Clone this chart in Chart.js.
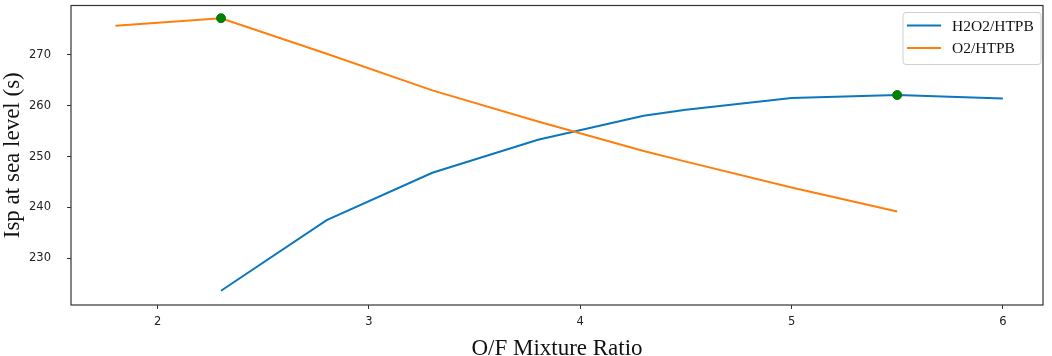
<!DOCTYPE html>
<html>
<head>
<meta charset="utf-8">
<script src="https://cdn.jsdelivr.net/npm/chart.js@4"></script>
<style>
    body { margin: 0; background: #fff; }
    #wrap { width: 1052px; height: 356px; position: relative; }
</style>
</head>
<body>
<div id="wrap"><canvas id="graph_isp"></canvas></div>
<script>
// ############################## ISP vs O/F ############################### //
const h2o2_of = [2.3, 2.8, 3.3, 3.8, 4.3, 4.5, 5.0, 5.5, 6.0];
const h2o2_isp = [223.6, 237.5, 246.8, 253.3, 258.0, 259.2, 261.5, 262.1, 261.4];
const o2_of = [1.8, 2.3, 2.8, 3.3, 3.8, 4.3, 4.5, 5.0, 5.5];
const o2_isp = [275.7, 277.2, 270.2, 263.0, 256.9, 251.1, 249.0, 243.9, 239.2];
const max_of = [2.3, 5.5];
const max_isp = [277.2, 262.1];
const xTicks = [2, 3, 4, 5, 6];
const yTicks = [230, 240, 250, 260, 270];

(function(){
    const toXY = (xs, ys) => xs.map((x, i) => ({x: x, y: ys[i]}));

    const serif = "'Liberation Serif', 'Times New Roman', serif";
    const sans = "'DejaVu Sans', sans-serif";

    // marco completo + leyenda dentro del area
    const framePlugin = {
        id: 'frame',
        afterDraw(chart) {
            const {ctx, chartArea: a} = chart;
            ctx.save();
            ctx.strokeStyle = '#333';
            ctx.lineWidth = 1.2;
            ctx.strokeRect(a.left, a.top, a.right - a.left, a.bottom - a.top);

            // leyenda
            const items = chart.data.datasets.filter(d => d.legend);
            const bx = a.right - 140, by = a.top + 7, bw = 138, bh = 52;
            ctx.fillStyle = 'rgba(255,255,255,0.8)';
            ctx.strokeStyle = '#d0d0d0';
            ctx.lineWidth = 1;
            ctx.beginPath();
            ctx.roundRect(bx, by, bw, bh, 3);
            ctx.fill();
            ctx.stroke();
            ctx.font = "15.5px " + serif;
            ctx.textBaseline = 'middle';
            items.forEach((d, i) => {
                const y = by + 13 + i * 22.5;
                ctx.strokeStyle = d.borderColor;
                ctx.lineWidth = 2;
                ctx.beginPath();
                ctx.moveTo(bx + 4, y);
                ctx.lineTo(bx + 38, y);
                ctx.stroke();
                ctx.fillStyle = '#111';
                ctx.fillText(d.label, bx + 49, y + 1);
            });
            ctx.restore();
        }
    };

    const data_graph = {
        datasets: [{
            type: 'scatter',
            label: 'max',
            data: toXY(max_of, max_isp),
            backgroundColor: '#008000',
            borderColor: '#008000',
            pointRadius: 4.5,
            order: 0
        },{
            label: 'H2O2/HTPB',
            data: toXY(h2o2_of, h2o2_isp),
            borderColor: '#0b77bd',
            backgroundColor: '#0b77bd',
            borderWidth: 2,
            pointRadius: 0,
            tension: 0,
            legend: true,
            order: 2
        },{
            label: 'O2/HTPB',
            data: toXY(o2_of, o2_isp),
            borderColor: '#ff7f0e',
            backgroundColor: '#ff7f0e',
            borderWidth: 2,
            pointRadius: 0,
            tension: 0,
            legend: true,
            order: 1
        }]
    };

    const config = {
        type: 'line',
        data: data_graph,
        options: {
            responsive: true,
            maintainAspectRatio: false,
            animation: false,
            layout: { padding: {left: 0, right: 9, top: 3, bottom: 0} },
            scales: {
                x: {
                    type: 'linear',
                    min: 1.59,
                    max: 6.19,
                    afterBuildTicks: s => { s.ticks = xTicks.map(v => ({value: v})); },
                    afterFit: s => { s.height = 51; s.paddingLeft = 0; s.paddingRight = 0; },
                    border: { display: false },
                    grid: { drawOnChartArea: false, drawTicks: true, tickLength: 4, color: '#333' },
                    ticks: { color: '#222', font: {family: sans, size: 11.5}, padding: 6, maxRotation: 0 },
                    title: {
                        display: true,
                        text: 'O/F Mixture Ratio',
                        color: '#111',
                        font: {family: serif, size: 23, lineHeight: 0.6},
                        padding: 0
                    }
                },
                y: {
                    type: 'linear',
                    min: 220.8,
                    max: 279.7,
                    afterBuildTicks: s => { s.ticks = yTicks.map(v => ({value: v})); },
                    afterFit: s => { s.width = 71; s.paddingTop = 0; s.paddingBottom = 0; },
                    border: { display: false },
                    grid: { drawOnChartArea: false, drawTicks: true, tickLength: 4, color: '#333' },
                    ticks: { color: '#222', font: {family: sans, size: 11.5}, padding: 16 },
                    title: {
                        display: true,
                        text: 'Isp at sea level (s)',
                        color: '#111',
                        font: {family: serif, size: 23, lineHeight: 1.1},
                        padding: 0
                    }
                }
            },
            plugins: {
                legend: { display: false },
                tooltip: { enabled: false }
            }
        },
        plugins: [framePlugin]
    };

    const isp_chart = new Chart(
        document.getElementById('graph_isp'),
        config
    );
})();
// ###################################################################################### //
</script>
</body>
</html>
